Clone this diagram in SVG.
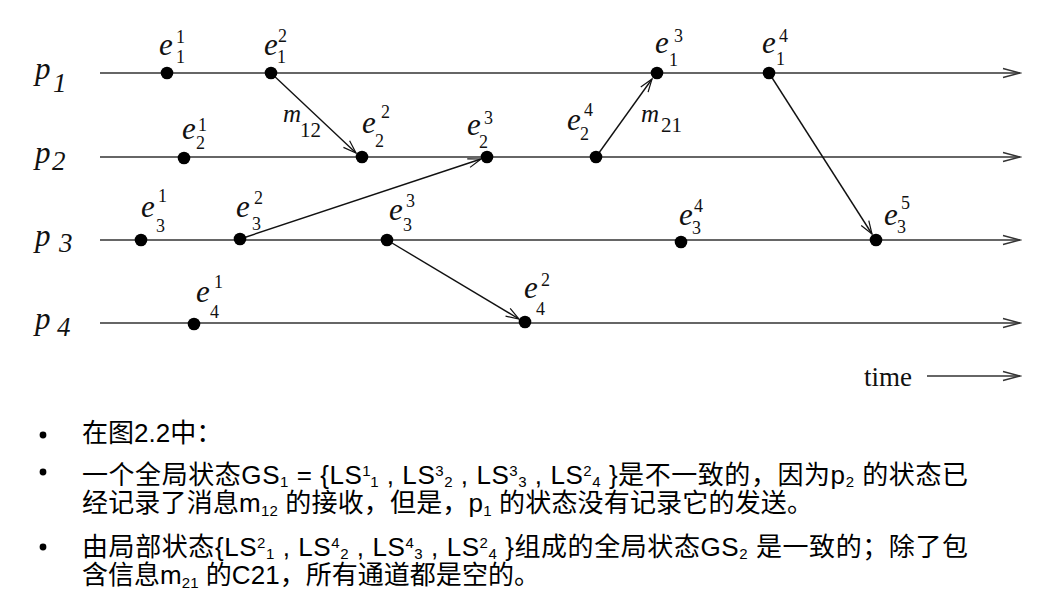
<svg xmlns="http://www.w3.org/2000/svg" width="1039" height="615" viewBox="0 0 1039 615">
<style>
.bg{fill:#fff}
.pl{stroke:#333;stroke-width:1.5;fill:none}
.msg{stroke:#111;stroke-width:1.4;fill:none}
.dot{fill:#000}
.e{font-family:"Liberation Serif",serif;font-style:italic;font-size:31px;fill:#111}
.d{font-family:"Liberation Serif",serif;font-size:18px;fill:#111}
.p{font-family:"Liberation Serif",serif;font-style:italic;font-size:31px;fill:#111}
.pd{font-family:"Liberation Serif",serif;font-style:italic;font-size:27px;fill:#111}
.m{font-family:"Liberation Serif",serif;font-style:italic;font-size:25px;fill:#111}
.md{font-family:"Liberation Serif",serif;font-size:21px;fill:#111}
.time{font-family:"Liberation Serif",serif;font-size:27px;fill:#111}
.txt{font-family:"Liberation Sans","Noto Sans CJK SC",sans-serif;font-size:26px;fill:#000}
.s{font-size:15px}
</style>
<defs>
<marker id="ah" markerWidth="20" markerHeight="12" refX="18" refY="6" orient="auto" markerUnits="userSpaceOnUse">
<path d="M1,1.5 L18,6 L1,10.5" fill="none" stroke="#333" stroke-width="1.3"/>
</marker>
<marker id="am" markerWidth="16" markerHeight="12" refX="14" refY="6" orient="auto" markerUnits="userSpaceOnUse">
<path d="M1,1.5 L14,6 L1,10.5" fill="none" stroke="#111" stroke-width="1.2"/>
</marker>
</defs>
<rect class="bg" x="0" y="0" width="1039" height="615"/>

<g id="connectors">
<line class="pl" x1="100" y1="73" x2="1020" y2="73" marker-end="url(#ah)"/>
<line class="pl" x1="100" y1="157" x2="1020" y2="157" marker-end="url(#ah)"/>
<line class="pl" x1="100" y1="240" x2="1020" y2="240" marker-end="url(#ah)"/>
<line class="pl" x1="100" y1="323" x2="1020" y2="323" marker-end="url(#ah)"/>
<line class="pl" x1="927" y1="376" x2="1020" y2="376" marker-end="url(#ah)"/>
<line class="msg" x1="271" y1="73" x2="356" y2="153" marker-end="url(#am)"/>
<line class="msg" x1="240" y1="239" x2="481" y2="159" marker-end="url(#am)"/>
<line class="msg" x1="596" y1="157" x2="652" y2="79" marker-end="url(#am)"/>
<line class="msg" x1="769" y1="73" x2="872" y2="234" marker-end="url(#am)"/>
<line class="msg" x1="387" y1="240" x2="519" y2="319" marker-end="url(#am)"/>
<text class="m" x="283" y="122">m</text><text class="md" x="300" y="137">12</text>
<text class="m" x="641" y="122">m</text><text class="md" x="661" y="132">21</text>
<text class="time" x="864" y="386">time</text>
</g>

<g id="p1"><text class="p" x="35" y="79">p</text><text class="pd" x="53" y="92">1</text></g>
<g id="p2"><text class="p" x="35" y="163">p</text><text class="pd" x="52" y="170">2</text></g>
<g id="p3"><text class="p" x="35" y="246">p</text><text class="pd" x="59" y="252">3</text></g>
<g id="p4"><text class="p" x="35" y="329">p</text><text class="pd" x="57" y="336">4</text></g>

<g id="e1_1"><circle class="dot" cx="167" cy="73" r="6.3"/><text class="e" x="159" y="55">e</text><text class="d" x="176" y="43">1</text><text class="d" x="176" y="63">1</text></g>
<g id="e1_2"><circle class="dot" cx="271" cy="73" r="6.3"/><text class="e" x="264" y="55">e</text><text class="d" x="278" y="42">2</text><text class="d" x="277" y="63">1</text></g>
<g id="e1_3"><circle class="dot" cx="657" cy="73" r="6.3"/><text class="e" x="655" y="53">e</text><text class="d" x="674" y="42">3</text><text class="d" x="669" y="66">1</text></g>
<g id="e1_4"><circle class="dot" cx="769" cy="73" r="6.3"/><text class="e" x="762" y="53">e</text><text class="d" x="779" y="42">4</text><text class="d" x="776" y="65">1</text></g>

<g id="e2_1"><circle class="dot" cx="184" cy="158" r="6.3"/><text class="e" x="182" y="139">e</text><text class="d" x="198" y="131">1</text><text class="d" x="196" y="149">2</text></g>
<g id="e2_2"><circle class="dot" cx="362" cy="157" r="6.3"/><text class="e" x="362" y="133">e</text><text class="d" x="381" y="118">2</text><text class="d" x="375" y="147">2</text></g>
<g id="e2_3"><circle class="dot" cx="487" cy="157" r="6.3"/><text class="e" x="467" y="135">e</text><text class="d" x="484" y="124">3</text><text class="d" x="479" y="148">2</text></g>
<g id="e2_4"><circle class="dot" cx="596" cy="157" r="6.3"/><text class="e" x="567" y="130">e</text><text class="d" x="584" y="116">4</text><text class="d" x="580" y="140">2</text></g>

<g id="e3_1"><circle class="dot" cx="141" cy="240" r="6.3"/><text class="e" x="141" y="217">e</text><text class="d" x="158" y="202">1</text><text class="d" x="156" y="232">3</text></g>
<g id="e3_2"><circle class="dot" cx="240" cy="239" r="6.3"/><text class="e" x="236" y="217">e</text><text class="d" x="254" y="204">2</text><text class="d" x="252" y="230">3</text></g>
<g id="e3_3"><circle class="dot" cx="387" cy="240" r="6.3"/><text class="e" x="389" y="220">e</text><text class="d" x="406" y="207">3</text><text class="d" x="403" y="231">3</text></g>
<g id="e3_4"><circle class="dot" cx="681" cy="242" r="6.3"/><text class="e" x="679" y="225">e</text><text class="d" x="694" y="212">4</text><text class="d" x="692" y="234">3</text></g>
<g id="e3_5"><circle class="dot" cx="876" cy="240" r="6.3"/><text class="e" x="884" y="225">e</text><text class="d" x="901" y="209">5</text><text class="d" x="897" y="233">3</text></g>

<g id="e4_1"><circle class="dot" cx="194" cy="324" r="6.3"/><text class="e" x="196" y="302">e</text><text class="d" x="214" y="288">1</text><text class="d" x="210" y="318">4</text></g>
<g id="e4_2"><circle class="dot" cx="525" cy="322" r="6.3"/><text class="e" x="524" y="298">e</text><text class="d" x="541" y="286">2</text><text class="d" x="536" y="315">4</text></g>

<g id="notes">
<circle cx="43" cy="435" r="3.4" fill="#000"/>
<circle cx="43" cy="472" r="3.4" fill="#000"/>
<circle cx="43" cy="547" r="3.4" fill="#000"/>
<text class="txt" x="82" y="442">在图2.2中：</text>
<text class="txt" x="82" y="484" textLength="886" lengthAdjust="spacing">一个全局状态GS<tspan class="s" dy="3">1</tspan><tspan dy="-3"> = {LS</tspan><tspan class="s" dy="-8">1</tspan><tspan class="s" dy="11">1</tspan><tspan dy="-3"> , LS</tspan><tspan class="s" dy="-8">3</tspan><tspan class="s" dy="11">2</tspan><tspan dy="-3"> , LS</tspan><tspan class="s" dy="-8">3</tspan><tspan class="s" dy="11">3</tspan><tspan dy="-3"> , LS</tspan><tspan class="s" dy="-8">2</tspan><tspan class="s" dy="11">4</tspan><tspan dy="-3"> }是不一致的，因为p</tspan><tspan class="s" dy="3">2</tspan><tspan dy="-3"> 的状态已</tspan></text>
<text class="txt" x="82" y="512" textLength="731" lengthAdjust="spacing">经记录了消息m<tspan class="s" dy="4">12</tspan><tspan dy="-4"> 的接收，但是，p</tspan><tspan class="s" dy="4">1</tspan><tspan dy="-4"> 的状态没有记录它的发送。</tspan></text>
<text class="txt" x="82" y="556" textLength="886" lengthAdjust="spacing">由局部状态{LS<tspan class="s" dy="-8">2</tspan><tspan class="s" dy="11">1</tspan><tspan dy="-3"> , LS</tspan><tspan class="s" dy="-8">4</tspan><tspan class="s" dy="11">2</tspan><tspan dy="-3"> , LS</tspan><tspan class="s" dy="-8">4</tspan><tspan class="s" dy="11">3</tspan><tspan dy="-3"> , LS</tspan><tspan class="s" dy="-8">2</tspan><tspan class="s" dy="11">4</tspan><tspan dy="-3"> }组成的全局状态GS</tspan><tspan class="s" dy="3">2</tspan><tspan dy="-3"> 是一致的；除了包</tspan></text>
<text class="txt" x="82" y="584" textLength="458" lengthAdjust="spacing">含信息m<tspan class="s" dy="4">21</tspan><tspan dy="-4"> 的C21，所有通道都是空的。</tspan></text>
</g>
</svg>
